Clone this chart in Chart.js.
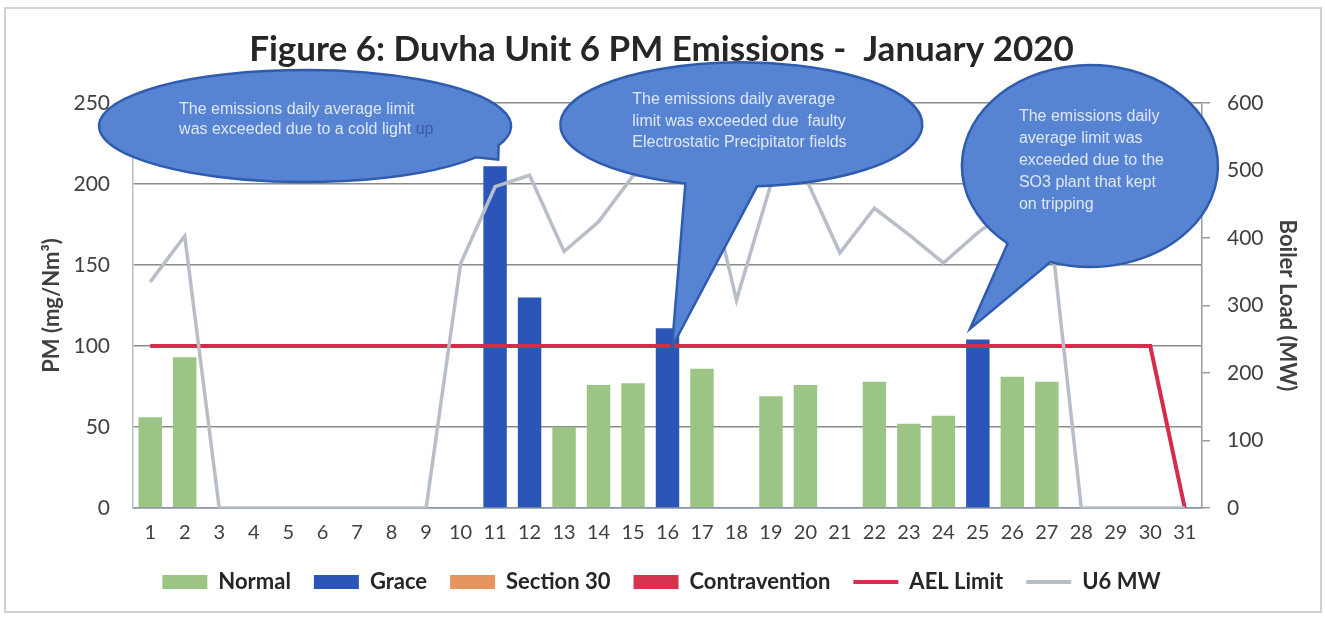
<!DOCTYPE html>
<html lang="en">
<head>
<meta charset="UTF-8">
<title>Duvha Unit 6 PM Emissions - January 2020</title>
<script src="https://cdnjs.cloudflare.com/ajax/libs/Chart.js/4.4.1/chart.umd.min.js"></script>
<style>
  html, body { margin: 0; padding: 0; background: #fff; }
  #wrap { width: 1325px; height: 618px; }
</style>
</head>
<body>
<div id="wrap"><canvas id="chart" width="1325" height="618"></canvas></div>
<script>
// days of January 2020
const days = ['1', '2', '3', '4', '5', '6', '7', '8', '9', '10', '11', '12', '13', '14', '15', '16',
              '17', '18', '19', '20', '21', '22', '23', '24', '25', '26', '27', '28', '29', '30', '31'];

// PM daily averages (mg/Nm3), split by status
const normal = [56, 93, null, null, null, null, null, null, null, null, null, null, 50, 76, 77, null,
                86, null, 69, 76, null, 78, 52, 57, null, 81, 78, null, null, null, null];
const grace = [null, null, null, null, null, null, null, null, null, null, 211, 130, null, null, null, 111,
               null, null, null, null, null, null, null, null, 104, null, null, null, null, null, null];
const section30 = [];
const contravention = [];

// AEL limit (mg/Nm3)
const aelLimit = [100, 100, 100, 100, 100, 100, 100, 100, 100, 100, 100, 100, 100, 100, 100, 100,
                  100, 100, 100, 100, 100, 100, 100, 100, 100, 100, 100, 100, 100, 100, 0];

// unit 6 boiler load (MW)
const u6MW = [335, 403, 0, 0, 0, 0, 0, 0, 0, 362, 476, 493, 380, 424, 492, 505,
              525, 308, 480, 490, 378, 444, 405, 363, 408, 445, 465, 0, 0, 0, 0];

// callout notes (second part of a line is drawn darker)
const notes = [
  [['The emissions daily average limit'], ['was exceeded due to a cold light ', 'up']],
  [['The emissions daily average'], ['limit was exceeded due  faulty'], ['Electrostatic Precipitator fields']],
  [['The emissions daily'], ['average limit was'], ['exceeded due to the'], ['SO3 plant that kept'], ['on tripping']]
];

const font = 'Lato, "Open Sans", sans-serif';

// where each callout sits: centre and tail tip in (day index, PM) units
const calloutLayout = [
  { cx: 4.49, cy: 235.8, rx: 206, ry: 56, a: 20, b: 34, tipX: 10.09, tipY: 215, tx: -126, ty: -16, lh: 20 },
  { cx: 17.14, cy: 236.7, rx: 181, ry: 62, a: 85, b: 108, tipX: 15.13, tipY: 99.4, tx: -109, ty: -24.5, lh: 21.5 },
  { cx: 27.25, cy: 211.1, rx: 128, ry: 101, a: 108, b: 130, tipX: 23.77, tipY: 110.5, tx: -71, ty: -49, lh: 22 }
];

const framePlugin = {
  id: 'frame',
  beforeDraw(chart) {
    const ctx = chart.ctx;
    ctx.save();
    ctx.fillStyle = '#fff';
    ctx.fillRect(0, 0, chart.width, chart.height);
    ctx.strokeStyle = '#d2d2d2';
    ctx.lineWidth = 2;
    ctx.strokeRect(5, 8, chart.width - 9, chart.height - 14);
    ctx.restore();
  }
};

const calloutPlugin = {
  id: 'callouts',
  afterDraw(chart) {
    const ctx = chart.ctx;
    const xs = chart.scales.x, ys = chart.scales.y;
    const rad = d => d * Math.PI / 180;
    calloutLayout.forEach((c, i) => {
      const cx = xs.getPixelForValue(c.cx);
      const cy = ys.getPixelForValue(c.cy);
      const tx = xs.getPixelForValue(c.tipX);
      const ty = ys.getPixelForValue(c.tipY);
      ctx.save();
      ctx.beginPath();
      ctx.ellipse(cx, cy, c.rx, c.ry, 0, rad(c.b), rad(c.a), false);
      ctx.lineTo(tx, ty);
      ctx.closePath();
      ctx.fillStyle = '#5683d2';
      ctx.fill();
      ctx.strokeStyle = '#2f5caf';
      ctx.lineWidth = 2.5;
      ctx.stroke();

      ctx.font = '16px "Liberation Sans", Arial, sans-serif';
      ctx.textBaseline = 'middle';
      ctx.textAlign = 'left';
      notes[i].forEach((parts, j) => {
        let x = cx + c.tx;
        const y = cy + c.ty + j * c.lh;
        parts.forEach((p, k) => {
          ctx.fillStyle = k === 0 ? '#dfe8f6' : '#3b5ba3';
          ctx.fillText(p, x, y);
          x += ctx.measureText(p).width;
        });
      });
      ctx.restore();
    });
  }
};

new Chart(document.getElementById('chart'), {
  data: {
    labels: days,
    datasets: [
      { type: 'bar', label: 'Normal', data: normal, backgroundColor: '#9cc485', yAxisID: 'y',
        order: 3, pointStyle: 'rect', barPercentage: 0.68, categoryPercentage: 1 },
      { type: 'bar', label: 'Grace', data: grace, backgroundColor: '#2b55b8', yAxisID: 'y',
        order: 3, pointStyle: 'rect', barPercentage: 0.68, categoryPercentage: 1 },
      { type: 'bar', label: 'Section 30', data: section30, backgroundColor: '#e6955e', yAxisID: 'y',
        order: 3, pointStyle: 'rect', barPercentage: 0.68, categoryPercentage: 1 },
      { type: 'bar', label: 'Contravention', data: contravention, backgroundColor: '#d6334f', yAxisID: 'y',
        order: 3, pointStyle: 'rect', barPercentage: 0.68, categoryPercentage: 1 },
      { type: 'line', label: 'AEL Limit', data: aelLimit, borderColor: '#d62b4b', borderWidth: 4,
        yAxisID: 'y', order: 2, pointRadius: 0, pointStyle: 'line', pointBorderWidth: 4, tension: 0 },
      { type: 'line', label: 'U6 MW', data: u6MW, borderColor: '#b7bec8', borderWidth: 3.5,
        yAxisID: 'y2', order: 1, pointRadius: 0, pointStyle: 'line', pointBorderWidth: 4, tension: 0 }
    ]
  },
  options: {
    responsive: false,
    devicePixelRatio: 1,
    animation: false,
    layout: { padding: { left: 6, right: 8, top: 10, bottom: 15 } },
    plugins: {
      title: {
        display: true,
        text: 'Figure 6: Duvha Unit 6 PM Emissions -  January 2020',
        color: '#262626',
        font: { family: font, size: 35, weight: 'bold' },
        padding: { top: 19, bottom: 32 }
      },
      legend: {
        position: 'bottom',
        labels: {
          usePointStyle: true,
          pointStyleWidth: 45,
          boxHeight: 14,
          padding: 23,
          color: '#262626',
          font: { family: font, size: 22, weight: 'bold' },
          sort: (a, b) => a.datasetIndex - b.datasetIndex
        }
      },
      tooltip: { enabled: false }
    },
    scales: {
      x: {
        stacked: true,
        grid: { display: false, drawTicks: false },
        border: { color: '#8796ab', width: 1.5 },
        ticks: { color: '#404040', font: { family: font, size: 20 }, padding: 13, maxRotation: 0, autoSkip: false },
        afterFit: s => { s.height = 40; }
      },
      y: {
        position: 'left',
        min: 0,
        max: 250,
        ticks: { stepSize: 50, color: '#404040', font: { family: font, size: 21 }, padding: 23 },
        grid: { color: '#8a8a8a', lineWidth: 1.5, drawTicks: false },
        border: { color: '#b3bfcd', width: 1.5 },
        title: { display: true, text: 'PM (mg/Nm³)', color: '#404040',
                 font: { family: font, size: 22, weight: 'bold' }, padding: { top: 33 } },
        afterFit: s => { s.width = 127; }
      },
      y2: {
        position: 'right',
        min: 0,
        max: 600,
        ticks: { stepSize: 100, color: '#404040', font: { family: font, size: 21 }, padding: 17 },
        grid: { drawOnChartArea: false, drawTicks: true, tickLength: 8, color: '#9a9a9a', lineWidth: 1.5 },
        border: { color: '#9a9a9a', width: 1.5 },
        title: { display: true, text: 'Boiler Load (MW)', color: '#404040',
                 font: { family: font, size: 22, weight: 'bold' }, padding: { top: 17 } },
        afterFit: s => { s.width = 115; }
      }
    }
  },
  plugins: [framePlugin, calloutPlugin]
});
</script>
</body>
</html>
